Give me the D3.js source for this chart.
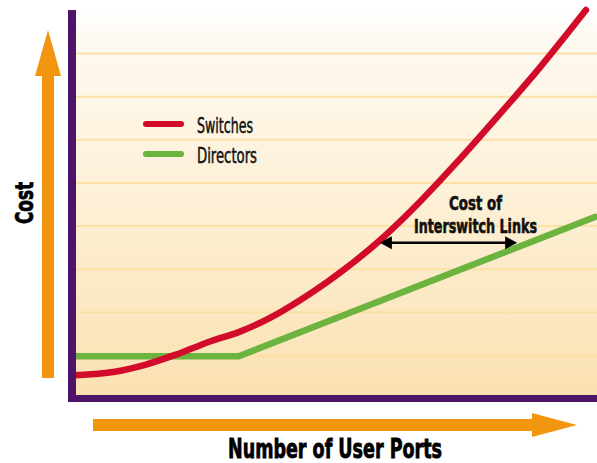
<!DOCTYPE html>
<html>
<head>
<meta charset="utf-8">
<script src="https://cdn.jsdelivr.net/npm/d3@7"></script>
<style>
html,body{margin:0;padding:0;background:#fff;}
svg{display:block;}
text{font-family:"Liberation Sans Narrow","DejaVu Sans Condensed","Arial Narrow",sans-serif;}
</style>
</head>
<body>
<svg id="chart" width="597" height="463"></svg>
<script>
// ---- data ----
const seriesNames = ["Switches", "Directors"];
const switchesX = [0, 7.66, 13.41, 19.16, 22.61, 25.86, 31.61, 37.36, 43.10, 48.28, 51.34, 58.43, 64.18, 73.18, 79.50, 89.08, 97.89];
const switchesY = [0.53, 0.61, 0.77, 1.00, 1.16, 1.31, 1.54, 1.86, 2.27, 2.69, 2.96, 3.66, 4.32, 5.47, 6.33, 7.67, 9.00];
const directorsX = [0, 31.4, 99.6];
const directorsY = [0.97, 0.97, 4.20];
const gridTicks = [1, 2, 3, 4, 5, 6, 7, 8];
const annotation = { x1: 58.4, x2: 84.7, y: 3.60, lines: ["Cost of", "Interswitch Links"] };
const xTitle = "Number of User Ports";
const yTitle = "Cost";

// ---- layout ----
const svg = d3.select("#chart");
const plot = { left: 76, right: 597, top: 10, bottom: 398 };
const x = d3.scaleLinear().domain([0, 100]).range([plot.left - 1, plot.right]);
const y = d3.scaleLinear().domain([0, 9]).range([plot.bottom, plot.top]);

const colors = { Switches: "#D20B2B", Directors: "#6CB33F" };
const purple = "#4E146A", orange = "#F3960F";

// background gradient
const defs = svg.append("defs");
const grad = defs.append("linearGradient").attr("id", "bg").attr("x1", 0).attr("y1", 0).attr("x2", 0).attr("y2", 1);
grad.append("stop").attr("offset", "0").attr("stop-color", "#FFFFFF");
grad.append("stop").attr("offset", "0.08").attr("stop-color", "#FEF9F0");
grad.append("stop").attr("offset", "0.5").attr("stop-color", "#FDF0D6");
grad.append("stop").attr("offset", "1").attr("stop-color", "#FAE1B1");

svg.append("rect").attr("x", plot.left).attr("y", plot.top)
  .attr("width", plot.right - plot.left).attr("height", 395 - plot.top)
  .attr("fill", "url(#bg)");

// gridlines via axis
const grid = svg.append("g").attr("transform", `translate(${plot.left},0)`)
  .call(d3.axisRight(y).tickValues(gridTicks).tickSize(plot.right - plot.left).tickFormat(""));
grid.select(".domain").remove();
grid.selectAll(".tick line").attr("stroke", "#FCE0A6").attr("stroke-width", 2);

// lines
const swData = switchesX.map((v, i) => [v, switchesY[i]]);
const dirData = directorsX.map((v, i) => [v, directorsY[i]]);

svg.append("path")
  .attr("d", d3.line().x(d => x(d[0])).y(d => y(d[1])).curve(d3.curveLinear)(dirData))
  .attr("fill", "none").attr("stroke", colors.Directors).attr("stroke-width", 6.5)
  .attr("stroke-linecap", "round").attr("stroke-linejoin", "round");

svg.append("path")
  .attr("d", d3.line().x(d => x(d[0])).y(d => y(d[1])).curve(d3.curveMonotoneX)(swData))
  .attr("fill", "none").attr("stroke", colors.Switches).attr("stroke-width", 6.5)
  .attr("stroke-linecap", "round").attr("stroke-linejoin", "round");

// axes bars
svg.append("rect").attr("x", 68).attr("y", 10).attr("width", 8).attr("height", 392).attr("fill", purple);
svg.append("rect").attr("x", 68).attr("y", 395).attr("width", 529).attr("height", 7).attr("fill", purple);

// legend
const legend = svg.append("g");
seriesNames.forEach((name, i) => {
  const yy = 124 + i * 30;
  legend.append("line").attr("x1", 146).attr("x2", 181).attr("y1", yy).attr("y2", yy)
    .attr("stroke", colors[name]).attr("stroke-width", 6).attr("stroke-linecap", "round");
  legend.append("text").attr("x", 197).attr("y", yy + 9)
    .attr("font-size", 21).attr("fill", "#111").attr("stroke", "#111").attr("stroke-width", 0.5)
    .attr("textLength", name === "Switches" ? 56 : 60).attr("lengthAdjust", "spacingAndGlyphs")
    .text(name);
});

// annotation double arrow
const ay = y(annotation.y), ax1 = x(annotation.x1), ax2 = x(annotation.x2);
svg.append("line").attr("x1", ax1 + 8).attr("x2", ax2 - 8).attr("y1", ay).attr("y2", ay)
  .attr("stroke", "#000").attr("stroke-width", 2.5);
svg.append("path").attr("d", `M${ax1},${ay} L${ax1 + 12},${ay - 6.5} L${ax1 + 12},${ay + 6.5} Z`).attr("fill", "#000");
svg.append("path").attr("d", `M${ax2},${ay} L${ax2 - 12},${ay - 6.5} L${ax2 - 12},${ay + 6.5} Z`).attr("fill", "#000");
const acx = 475.5;
svg.append("text").attr("x", acx).attr("y", 210).attr("text-anchor", "middle")
  .attr("font-size", 20).attr("font-weight", "bold").attr("fill", "#111").attr("stroke", "#111").attr("stroke-width", 0.6)
  .attr("textLength", 53).attr("lengthAdjust", "spacingAndGlyphs").text(annotation.lines[0]);
svg.append("text").attr("x", acx).attr("y", 233).attr("text-anchor", "middle")
  .attr("font-size", 20).attr("font-weight", "bold").attr("fill", "#111").attr("stroke", "#111").attr("stroke-width", 0.6)
  .attr("textLength", 123).attr("lengthAdjust", "spacingAndGlyphs").text(annotation.lines[1]);

// orange arrows
svg.append("path")
  .attr("d", "M42,378 L42,76 L35,76 L48,30 L61,76 L54,76 L54,378 Z")
  .attr("fill", orange);
svg.append("path")
  .attr("d", "M93,419 L532,419 L532,413 L577,425 L532,437 L532,431 L93,431 Z")
  .attr("fill", orange);

// axis titles
svg.append("text").attr("x", 335).attr("y", 458).attr("text-anchor", "middle")
  .attr("font-size", 27).attr("font-weight", "bold").attr("fill", "#000").attr("stroke", "#000").attr("stroke-width", 0.8)
  .attr("textLength", 214).attr("lengthAdjust", "spacingAndGlyphs").text(xTitle);
svg.append("text").attr("transform", "translate(33,203) rotate(-90)").attr("text-anchor", "middle")
  .attr("font-size", 25).attr("font-weight", "bold").attr("fill", "#000").attr("stroke", "#000").attr("stroke-width", 0.8)
  .attr("textLength", 42).attr("lengthAdjust", "spacingAndGlyphs").text(yTitle);
</script>
</body>
</html>
